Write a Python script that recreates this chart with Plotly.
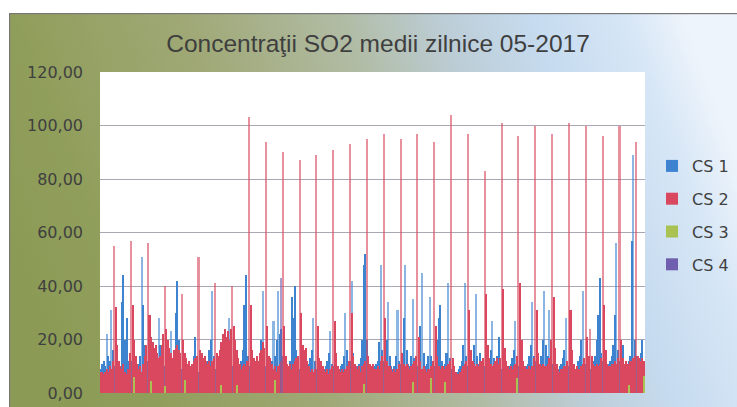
import base64
import plotly.graph_objects as go

# chart box in pixels (figure is 737 x 407)
W, H = 737, 407
PL, PR, PT, PB = 100, 645, 72, 393

title_text = "Concentraţii SO2 medii zilnice 05-2017"
series_names = ["CS 1", "CS 2", "CS 3", "CS 4"]
y_ticks = [0, 20, 40, 60, 80, 100, 120]

# hourly-ish readings, 11 per row (first row: the readings before the first peak)
cs1 = [
    9, 11, 12, 10, 22, 14, 12, 31, 16,
    10, 12, 9, 8, 10, 34, 44, 20, 28, 12, 10,
    12, 10, 9, 8, 9, 11, 14, 51, 33, 18, 12,
    12, 10, 9, 9, 10, 12, 14, 28, 18, 10, 9,
    10, 9, 11, 14, 23, 12, 10, 30, 42, 20, 11,
    9, 8, 8, 9, 10, 9, 10, 11, 14, 21, 10,
    8, 8, 9, 10, 11, 10, 12, 16, 20, 38, 14,
    9, 8, 8, 9, 10, 10, 11, 13, 16, 28, 12,
    10, 9, 9, 8, 9, 10, 12, 16, 33, 44, 14,
    10, 9, 9, 8, 9, 10, 11, 14, 20, 38, 15,
    10, 9, 9, 10, 12, 27, 14, 20, 38, 22, 24,
    14, 10, 9, 9, 10, 12, 36, 28, 40, 16, 11,
    9, 8, 8, 9, 9, 10, 11, 13, 16, 28, 12,
    9, 8, 8, 8, 9, 9, 10, 12, 15, 23, 11,
    10, 9, 8, 8, 9, 10, 11, 14, 30, 16, 12,
    12, 42, 15, 10, 9, 10, 11, 13, 20, 48, 52,
    20, 14, 10, 9, 9, 10, 11, 12, 19, 48, 16,
    12, 16, 20, 34, 14, 10, 9, 10, 14, 31, 12,
    11, 14, 28, 48, 16, 11, 10, 14, 35, 13, 10,
    10, 13, 25, 45, 15, 10, 11, 14, 36, 14, 11,
    10, 12, 20, 28, 33, 12, 10, 11, 15, 41, 13,
    9, 8, 7, 7, 8, 9, 10, 12, 18, 41, 14,
    10, 9, 9, 12, 18, 37, 14, 11, 15, 10, 11,
    10, 9, 10, 12, 16, 27, 13, 11, 14, 21, 12,
    9, 9, 8, 8, 9, 10, 11, 13, 16, 27, 13,
    10, 9, 9, 8, 9, 10, 11, 14, 18, 34, 14,
    12, 10, 9, 10, 14, 20, 38, 18, 14, 31, 12,
    11, 10, 9, 9, 9, 10, 11, 13, 16, 28, 12,
    10, 9, 9, 8, 9, 10, 12, 14, 20, 38, 13,
    11, 10, 10, 9, 10, 12, 14, 20, 29, 43, 15,
    12, 11, 10, 10, 11, 12, 14, 18, 29, 56, 16,
    12, 11, 18, 11, 10, 11, 12, 14, 57, 89, 20,
    14, 12, 11, 15, 20, 12,
]

cs2 = [
    8, 8, 7, 8, 9, 8, 10, 9, 12,
    55, 32, 18, 12, 10, 9, 11, 8, 7, 9, 15,
    57, 33, 20, 14, 11, 9, 10, 8, 11, 14, 18,
    56, 29, 21, 19, 17, 18, 15, 13, 14, 18, 22,
    40, 24, 20, 17, 15, 13, 16, 17, 18, 16, 15,
    37, 20, 15, 13, 11, 12, 10, 11, 12, 13, 14,
    51, 16, 15, 13, 14, 12, 11, 12, 10, 12, 13,
    41, 15, 14, 16, 19, 22, 24, 21, 23, 20, 24,
    40, 25, 20, 16, 13, 11, 9, 10, 11, 10, 12,
    103, 33, 16, 13, 12, 14, 12, 15, 16, 19, 17,
    94, 25, 14, 13, 11, 9, 10, 8, 10, 11, 12,
    90, 25, 14, 11, 10, 11, 9, 11, 12, 13, 14,
    87, 30, 18, 16, 17, 12, 10, 8, 9, 8, 9,
    89, 25, 13, 12, 10, 9, 8, 9, 7, 9, 10,
    91, 27, 15, 10, 9, 8, 9, 8, 9, 10, 12,
    93, 30, 14, 11, 10, 9, 10, 8, 10, 11, 12,
    95, 14, 11, 10, 11, 9, 9, 10, 9, 12, 14,
    97, 28, 12, 10, 10, 9, 8, 9, 8, 9, 11,
    95, 15, 11, 10, 11, 10, 9, 10, 11, 12, 14,
    97, 21, 12, 9, 10, 9, 8, 9, 9, 10, 12,
    94, 25, 14, 10, 9, 10, 10, 9, 10, 11, 12,
    104, 13, 10, 8, 7, 7, 8, 9, 10, 11, 12,
    97, 31, 16, 12, 11, 10, 11, 10, 12, 12, 13,
    83, 37, 18, 13, 11, 10, 11, 12, 13, 11, 13,
    101, 39, 17, 12, 10, 9, 10, 9, 10, 11, 14,
    96, 41, 20, 12, 10, 9, 9, 10, 9, 10, 13,
    100, 31, 15, 11, 10, 11, 10, 10, 11, 13, 20,
    97, 36, 17, 11, 9, 8, 9, 9, 10, 10, 12,
    101, 31, 16, 11, 9, 10, 9, 9, 10, 11, 13,
    100, 21, 14, 24, 14, 11, 10, 11, 10, 11, 13,
    96, 33, 16, 11, 10, 10, 11, 11, 12, 11, 13,
    100, 20, 13, 11, 12, 11, 11, 12, 12, 13, 14,
    94, 14, 13, 12, 13, 12,
]

cs3 = [
    0, 0, 0, 0, 0, 0, 0, 0, 0,
    0, 0, 0, 0, 0, 0, 0, 0, 0, 0, 0,
    0, 0, 6, 0, 0, 0, 0, 0, 0, 0, 0,
    0, 0, 4.5, 0, 0, 0, 0, 0, 0, 0, 0,
    2.5, 0, 0, 0, 0, 0, 0, 0, 0, 0, 0,
    0, 0, 5, 0, 0, 0, 0, 0, 0, 0, 0,
    0, 0, 0, 0, 0, 0, 0, 0, 0, 0, 0,
    0, 0, 0, 0, 3, 0, 0, 0, 0, 0, 0,
    0, 0, 0, 3, 0, 0, 0, 0, 0, 0, 0,
    0, 0, 0, 0, 0, 0, 0, 0, 0, 0, 0,
    0, 0, 0, 0, 0, 0, 5, 0, 0, 0, 0,
    0, 0, 0, 0, 0, 0, 0, 0, 0, 0, 0,
    0, 0, 0, 0, 0, 0, 0, 0, 0, 0, 0,
    0, 0, 0, 0, 0, 0, 0, 0, 0, 0, 0,
    0, 0, 0, 0, 0, 0, 0, 0, 0, 0, 0,
    0, 0, 0, 0, 0, 0, 0, 0, 0, 3.5, 0,
    0, 0, 0, 0, 0, 0, 0, 0, 0, 0, 0,
    0, 0, 0, 0, 0, 0, 0, 0, 0, 0, 0,
    0, 0, 0, 0, 0, 0, 0, 0, 4, 0, 0,
    0, 0, 0, 0, 0, 0, 0, 0, 0, 5.5, 0,
    0, 0, 0, 0, 0, 0, 0, 4, 0, 0, 0,
    0, 0, 0, 0, 0, 0, 0, 0, 0, 0, 0,
    0, 0, 0, 0, 0, 0, 0, 0, 0, 0, 0,
    0, 0, 0, 0, 0, 0, 0, 0, 0, 0, 0,
    0, 0, 0, 0, 0, 0, 0, 0, 0, 0, 5.5,
    0, 0, 0, 0, 0, 0, 0, 0, 0, 0, 0,
    0, 0, 0, 0, 0, 0, 0, 0, 0, 0, 0,
    0, 0, 0, 0, 0, 0, 0, 0, 0, 0, 0,
    0, 0, 0, 0, 0, 0, 0, 0, 0, 0, 0,
    0, 0, 0, 0, 0, 0, 0, 0, 0, 0, 0,
    0, 0, 0, 0, 0, 0, 0, 0, 0, 0, 0,
    0, 0, 0, 0, 0, 0, 3, 0, 0, 0, 0,
    0, 0, 0, 0, 0, 6.5,
]

cs4 = [
    0, 0, 0, 0, 0, 0, 0, 0, 0,
    0, 0, 0, 0, 0, 0, 0, 0, 0, 0, 0,
    0, 0, 0, 0, 0, 0, 0, 0, 0, 0, 0,
    0, 0, 0, 0, 0, 0, 0, 0, 0, 0, 0,
    0, 0, 0, 0, 0, 0, 0, 0, 0, 0, 0,
    0, 0, 0, 0, 0, 0, 0, 0, 0, 0, 0,
    0, 0, 0, 0, 0, 0, 0, 0, 0, 0, 0,
    0, 0, 0, 0, 0, 0, 0, 0, 0, 0, 0,
    0, 0, 0, 0, 0, 0, 0, 0, 0, 0, 0,
    0, 0, 0, 0, 0, 0, 0, 0, 0, 0, 0,
    0, 0, 0, 0, 0, 0, 0, 0, 0, 0, 43,
    0, 0, 0, 0, 0, 0, 0, 0, 0, 0, 0,
    0, 0, 0, 0, 0, 0, 0, 0, 0, 0, 0,
    0, 0, 0, 0, 0, 0, 0, 0, 0, 0, 0,
    0, 0, 0, 0, 0, 0, 0, 0, 0, 0, 0,
    0, 0, 0, 0, 0, 0, 0, 0, 0, 0, 0,
    0, 0, 0, 0, 0, 0, 0, 0, 0, 0, 0,
    0, 0, 0, 0, 0, 0, 0, 0, 0, 0, 0,
    0, 0, 0, 0, 0, 0, 0, 0, 0, 0, 0,
    0, 0, 0, 0, 0, 0, 0, 0, 0, 0, 0,
    0, 0, 0, 0, 0, 0, 0, 0, 0, 0, 0,
    0, 0, 0, 0, 0, 0, 0, 0, 0, 0, 0,
    0, 0, 0, 0, 0, 0, 0, 0, 0, 0, 0,
    0, 0, 0, 0, 0, 0, 0, 0, 0, 0, 0,
    0, 0, 0, 0, 0, 0, 0, 0, 0, 0, 0,
    0, 0, 0, 0, 0, 0, 0, 0, 0, 0, 0,
    0, 0, 0, 0, 0, 0, 0, 0, 0, 0, 0,
    0, 0, 0, 0, 0, 0, 0, 0, 0, 0, 0,
    0, 0, 0, 0, 0, 0, 0, 0, 0, 0, 0,
    0, 0, 0, 0, 0, 0, 0, 0, 0, 0, 0,
    0, 0, 0, 0, 0, 0, 0, 0, 0, 0, 0,
    0, 0, 0, 0, 0, 0, 0, 0, 0, 0, 0,
    0, 0, 0, 0, 0, 0,
]

colors = ["#3d83d0", "#d9485e", "#a9c251", "#6f5fae"]


def peak_opacity(vals):
    # thin isolated peaks look pale in the original, dense parts look solid
    out = []
    for i, v in enumerate(vals):
        left = vals[i - 1] if i > 0 else 0
        right = vals[i + 1] if i < len(vals) - 1 else 0
        out.append(0.6 if v > 20 and v > 1.5 * max(left, right) else 1.0)
    return out


x = list(range(len(cs2)))

fig = go.Figure()
for name, vals, col in zip(series_names, [cs1, cs2, cs3, cs4], colors):
    fig.add_trace(go.Bar(
        x=x, y=vals, name=name, legendgroup=name,
        marker=dict(color=col, line=dict(width=0), opacity=peak_opacity(vals)),
    ))

# gradient chart background (olive on the left, pale blue on the right),
# with the white plot area painted into the same picture
gx, gy = 9, 13
gw, gh = W - gx, H - gy
pw, ph = PR - PL, PB - PT
svg = (
    f"<svg xmlns='http://www.w3.org/2000/svg' width='{gw}' height='{gh}'>"
    "<defs><linearGradient id='g' x1='0' y1='0.6' x2='1' y2='0.4'>"
    "<stop offset='0' stop-color='#8b9b55'/>"
    "<stop offset='0.12' stop-color='#909e5b'/>"
    "<stop offset='0.35' stop-color='#a0a977'/>"
    "<stop offset='0.55' stop-color='#b1bca5'/>"
    "<stop offset='0.68' stop-color='#bccdd6'/>"
    "<stop offset='0.80' stop-color='#c6dbef'/>"
    "<stop offset='0.92' stop-color='#d6e6f6'/>"
    "<stop offset='1' stop-color='#eef4fb'/>"
    "</linearGradient></defs>"
    f"<rect x='0.6' y='0.6' width='{gw + 5}' height='{gh + 5}' fill='url(#g)' "
    "stroke='#777777' stroke-width='1.2'/>"
    f"<rect x='{PL - gx}' y='{PT - gy}' width='{pw}' height='{ph}' fill='white'/>"
    "</svg>"
)
bg_src = "data:image/svg+xml;base64," + base64.b64encode(svg.encode()).decode()

fig.update_layout(
    width=W, height=H,
    margin=dict(l=PL, r=W - PR, t=PT, b=H - PB, pad=0, autoexpand=False),
    barmode="overlay", bargap=0,
    paper_bgcolor="white", plot_bgcolor="rgba(0,0,0,0)",
    separators=", ",
    title=dict(
        text=title_text, x=378 / W, xref="container", xanchor="center",
        y=1 - 43 / H, yref="container", yanchor="middle",
        font=dict(family="Liberation Sans, Arial", size=24.5, color="#3f3f3f"),
    ),
    legend=dict(
        x=(652 - PL) / pw, xanchor="left", y=(PB - 149) / ph, yanchor="top",
        font=dict(family="DejaVu Sans", size=16, color="#404040"),
        bgcolor="rgba(0,0,0,0)", tracegroupgap=9, traceorder="grouped",
    ),
    images=[dict(
        source=bg_src, xref="paper", yref="paper",
        x=(gx - PL) / pw, y=(PB - gy) / ph, sizex=gw / pw, sizey=gh / ph,
        xanchor="left", yanchor="top", sizing="stretch", layer="below",
    )],
    showlegend=True,
)
fig.update_xaxes(range=[-0.5, len(x) - 0.5], showticklabels=False, showgrid=False,
                 zeroline=False, showline=False, ticks="", automargin=False)
fig.update_yaxes(range=[0, 120], tickvals=y_ticks, tickformat=".2f",
                 showgrid=True, gridcolor="#aba6b4", gridwidth=1, zeroline=False,
                 showline=False, ticks="", ticklabelstandoff=16, automargin=False,
                 tickfont=dict(family="DejaVu Sans", size=16, color="#404040"))

# the page body has a default 8px margin; drop it so the chart sits at the corner
fig.write_html("out.html", config={"displayModeBar": False},
               post_script="document.body.style.margin='0';")
